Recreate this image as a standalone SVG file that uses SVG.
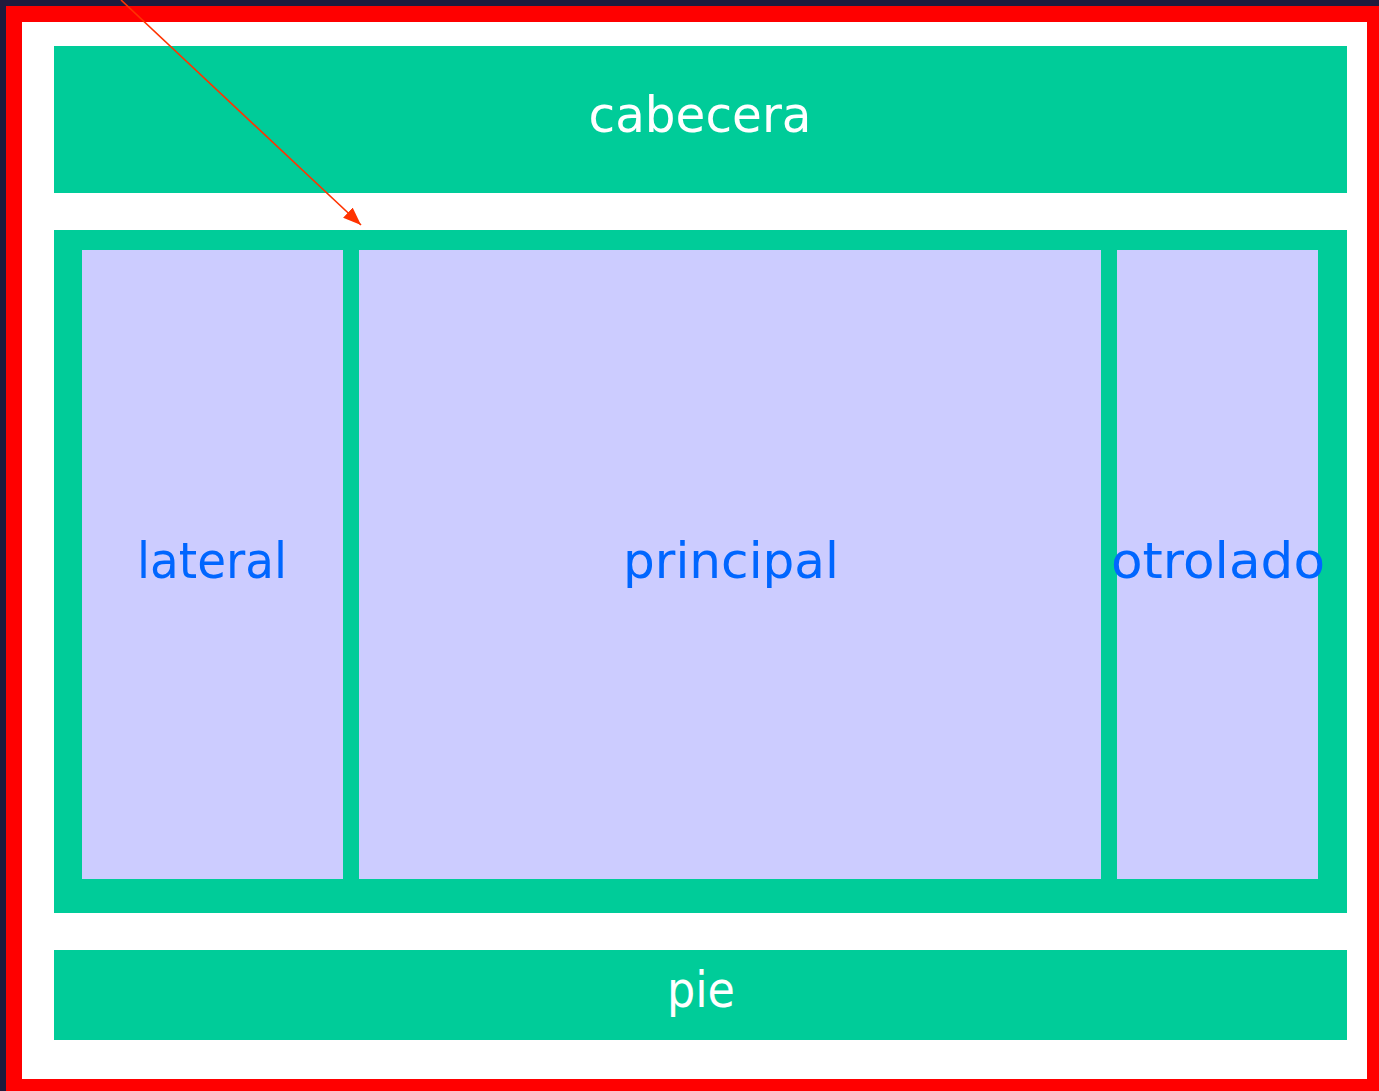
<svg xmlns="http://www.w3.org/2000/svg" width="1379" height="1091" viewBox="0 0 1379 1091">
<style>
.box{fill:#00cc99}
.col{fill:#ccccff}
.tw{font-family:"DejaVu Sans","Liberation Sans",sans-serif;font-size:50px;fill:#ffffff;text-anchor:middle}
.tb{font-family:"DejaVu Sans","Liberation Sans",sans-serif;font-size:50px;fill:#0066ff;text-anchor:middle}
</style>
<defs>
<marker id="ah" markerWidth="18" markerHeight="14" refX="18" refY="7" orient="auto" markerUnits="userSpaceOnUse" viewBox="0 0 18 14">
<path d="M0,0 L18,7 L0,14 Z" fill="#ff3300"/>
</marker>
</defs>
<rect x="0" y="0" width="1379" height="1091" fill="#1f1b3d"/>
<rect x="6" y="6" width="1373" height="1085" fill="#ff0000"/>
<rect x="22" y="22" width="1345" height="1057" fill="#ffffff"/>
<g id="cabecera">
<rect class="box" x="54" y="46" width="1293" height="147"/>
<text class="tw" x="700" y="132" textLength="223" lengthAdjust="spacingAndGlyphs">cabecera</text>
</g>
<g id="contenedor">
<rect class="box" x="54" y="230" width="1293" height="683"/>
</g>
<g id="lateral">
<rect class="col" x="82" y="250" width="261" height="629"/>
<text class="tb" x="212" y="578" textLength="150" lengthAdjust="spacingAndGlyphs">lateral</text>
</g>
<g id="principal">
<rect class="col" x="359" y="250" width="742" height="629"/>
<text class="tb" x="731" y="578" textLength="216" lengthAdjust="spacingAndGlyphs">principal</text>
</g>
<g id="otrolado">
<rect class="col" x="1117" y="250" width="201" height="629"/>
<text class="tb" x="1218" y="578" textLength="214" lengthAdjust="spacingAndGlyphs">otrolado</text>
</g>
<g id="pie">
<rect class="box" x="54" y="950" width="1293" height="90"/>
<text class="tw" x="701" y="1007" textLength="68" lengthAdjust="spacingAndGlyphs">pie</text>
</g>
<g id="connectors">
<line x1="121" y1="0" x2="361" y2="225" stroke="#ff3300" stroke-width="1.6" marker-end="url(#ah)"/>
</g>
</svg>
